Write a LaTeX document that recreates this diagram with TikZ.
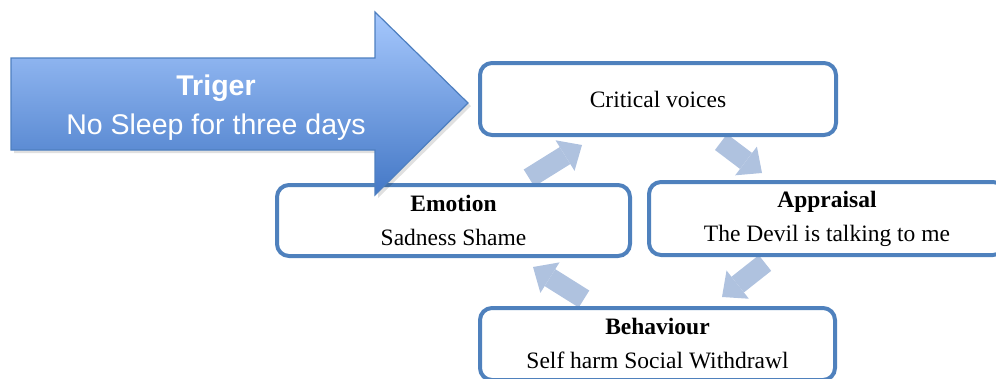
\documentclass[tikz,border=0pt]{standalone}
\usepackage{fontspec}
\setmainfont{Liberation Serif}
\newfontfamily\triggerfont{Liberation Sans}
\usetikzlibrary{arrows.meta}
\definecolor{boxblue}{HTML}{4F81BD}
\definecolor{flowblue}{HTML}{AFC2DF}
\definecolor{trigtop}{HTML}{A6C8FD}
\definecolor{trigbot}{HTML}{4478C6}
\definecolor{trigedge}{HTML}{4E7FC0}

\begin{document}
\begin{tikzpicture}[x=1pt,y=-1pt,
  stage/.style={draw=boxblue, line width=4pt, rounded corners=12pt, fill=white,
    align=center, inner sep=0pt, font=\fontsize{23.5}{34}\selectfont},
  flow/.style={flowblue, line width=20pt,
    -{Triangle[width=36pt,length=20pt,line width=0pt]}},
  trigtext/.style={text=white, align=center, inner sep=0pt,
    font=\triggerfont\fontsize{28.5}{39}\selectfont}
]
\clip (0,0) rectangle (996,378);

% end points of the cycle arrows
\coordinate (a1s) at (529,178);
\coordinate (a1e) at (582,145);
\coordinate (a2s) at (721,142);
\coordinate (a2e) at (762,173);
\coordinate (a3s) at (765,263);
\coordinate (a3e) at (722,297);
\coordinate (a4s) at (584,299);
\coordinate (a4e) at (533,267);

\draw[flow] (a1s) -- (a1e);
\draw[flow] (a2s) -- (a2e);
\draw[flow] (a3s) -- (a3e);
\draw[flow] (a4s) -- (a4e);

% cycle stages
\node[stage, minimum width=356pt, minimum height=72pt] (crit) at (658,99) {Critical voices};
\node[stage, minimum width=353pt, minimum height=71pt] (emo) at (453.5,220.5)
  {\textbf{Emotion}\\Sadness Shame};
\node[stage, minimum width=356pt, minimum height=73pt] (app) at (827,218.5)
  {\textbf{Appraisal}\\The Devil is talking to me};
\node[stage, minimum width=355pt, minimum height=72pt] (beh) at (657.5,344)
  {\textbf{Behaviour}\\Self harm Social Withdrawl};

% trigger block arrow
\fill[black, opacity=0.12] (14,61) -- (378,61) -- (378,15) -- (471,106) -- (378,198)
  -- (378,153) -- (14,153) -- cycle;
\shade[top color=trigtop, bottom color=trigbot] (11,58) -- (375,58) -- (375,12)
  -- (468,103) -- (375,195) -- (375,150) -- (11,150) -- cycle;
\draw[trigedge, line width=1.2pt, line join=miter] (11,58) -- (375,58) -- (375,12)
  -- (468,103) -- (375,195) -- (375,150) -- (11,150) -- cycle;
\node[trigtext] (trig) at (216,107.5) {\bfseries Triger\\No Sleep for three days};
\end{tikzpicture}
\end{document}
